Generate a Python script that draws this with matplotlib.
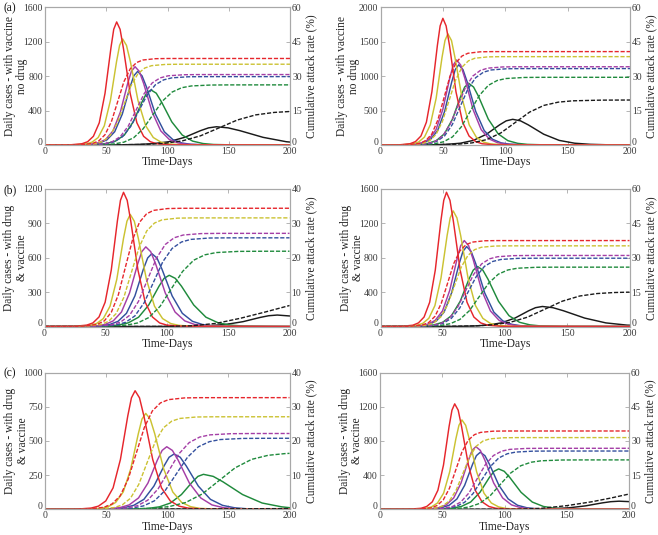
import matplotlib
matplotlib.use("Agg")
import matplotlib.pyplot as plt
import matplotlib.transforms as mtrans

plt.rcParams['font.family'] = ['Liberation Serif', 'DejaVu Serif']

COLORS = {'red': '#e6262c', 'yellow': '#cbc232', 'purple': '#a43ea6',
          'blue': '#33509e', 'green': '#1f8a3c', 'black': '#1a1a1a'}
ORDER = ['black', 'green', 'blue', 'purple', 'yellow', 'red']

X_TICKS = [0, 50, 100, 150, 200]

# ---------------- Panel (a): vaccine, no drug (left) ----------------
A_DAILY = {
    'red': ([0, 20.5, 30, 34.8, 39.5, 44.3, 49, 53.8, 56.1, 58.5, 61.3, 64, 69.5, 75, 80.5, 86, 91.5, 102.5, 200],
            [0, 2, 14, 38, 101, 258, 601, 1125, 1344, 1430, 1344, 1125, 601, 258, 101, 38, 14, 2, 0]),
    'yellow': ([0, 23.4, 33.4, 38.4, 43.4, 48.4, 53.4, 58.4, 60.9, 63.4, 66.5, 69.7, 75.9, 82.2, 88.4, 94.7, 100.9, 113.4, 200],
               [0, 2, 12, 33, 87, 223, 517, 969, 1158, 1232, 1158, 969, 517, 223, 87, 33, 12, 2, 0]),
    'purple': ([0, 25.5, 37.5, 43.5, 49.5, 55.5, 61.5, 67.5, 70.5, 73.5, 77, 80.5, 87.5, 94.5, 101.5, 108.5, 115.5, 129.5, 200],
               [0, 1, 9, 24, 64, 164, 382, 716, 855, 910, 855, 716, 382, 164, 64, 24, 9, 1, 0]),
    'blue': ([0, 25.6, 38.1, 44.4, 50.6, 56.9, 63.1, 69.4, 72.5, 75.6, 79.2, 82.9, 90.1, 97.4, 104.6, 111.9, 119.1, 133.6, 200],
             [0, 1, 8, 23, 60, 154, 359, 672, 804, 855, 804, 672, 359, 154, 60, 23, 8, 1, 0]),
    'green': ([0, 28.5, 43, 50.3, 57.5, 64.8, 72, 79.3, 82.9, 86.5, 90.8, 95, 103.5, 112, 120.5, 129, 137.5, 154.5, 200],
              [0, 1, 6, 17, 45, 116, 269, 503, 602, 640, 602, 503, 269, 116, 45, 17, 6, 1, 0]),
    'black': ([0, 36, 62, 75, 88, 101, 114, 127, 133.5, 140, 149.5, 159, 178, 197, 200],
              [0, 0.3, 2, 6, 15, 38, 89, 167, 199, 212, 199, 167, 89, 38, 34]),
}
A_CUM = {
    'red': ([0, 18.3, 28.6, 38.8, 43.9, 49, 54.2, 59.3, 64.4, 69.6, 74.7, 79.8, 90.1, 100.3, 200],
            [0, 0.01, 0.09, 0.68, 1.79, 4.49, 10.14, 18.85, 27.56, 33.21, 35.91, 37.02, 37.61, 37.69, 37.7]),
    'yellow': ([0, 19.5, 30.8, 42, 47.6, 53.3, 58.9, 64.5, 70.1, 75.8, 81.4, 87, 98.3, 109.5, 200],
               [0, 0.01, 0.09, 0.63, 1.67, 4.2, 9.47, 17.6, 25.73, 31.0, 33.53, 34.57, 35.11, 35.19, 35.2]),
    'purple': ([0, 22.5, 35.5, 48.5, 55, 61.5, 68, 74.5, 81, 87.5, 94, 100.5, 113.5, 126.5, 200],
               [0, 0.01, 0.08, 0.55, 1.46, 3.66, 8.26, 15.35, 22.44, 27.04, 29.24, 30.15, 30.62, 30.69, 30.7]),
    'blue': ([0, 22.6, 36.1, 49.6, 56.4, 63.1, 69.9, 76.6, 83.4, 90.1, 96.9, 103.6, 117.1, 130.6, 200],
             [0, 0.01, 0.07, 0.54, 1.41, 3.55, 8.01, 14.9, 21.79, 26.25, 28.39, 29.26, 29.73, 29.79, 29.8]),
    'green': ([0, 25, 40.8, 56.5, 64.4, 72.3, 80.1, 88, 95.9, 103.8, 111.6, 119.5, 135.3, 151, 200],
              [0, 0.01, 0.07, 0.47, 1.24, 3.12, 7.05, 13.1, 19.15, 23.08, 24.96, 25.73, 26.13, 26.19, 26.2]),
    'black': ([0, 22, 52, 82, 97, 112, 127, 142, 157, 172, 187, 200],
              [0, 0.004, 0.04, 0.27, 0.71, 1.78, 4.01, 7.45, 10.89, 13.12, 14.19, 14.6]),
}

# ---------------- Panel (a'): vaccine, no drug (right) ----------------
B_DAILY = {
    'red': ([0, 14.8, 23.6, 28, 32.4, 36.8, 41.2, 45.6, 47.8, 50, 52.6, 55.3, 60.5, 65.8, 71, 76.3, 81.5, 92, 200],
            [0, 2, 18, 49, 130, 332, 773, 1447, 1730, 1840, 1730, 1447, 773, 332, 130, 49, 18, 2, 0]),
    'yellow': ([0, 16.4, 25.8, 30.5, 35.2, 39.9, 44.6, 49.3, 51.7, 54, 56.9, 59.7, 65.4, 71.1, 76.8, 82.5, 88.2, 99.6, 200],
               [0, 2, 16, 43, 114, 292, 678, 1270, 1518, 1615, 1518, 1270, 678, 292, 114, 43, 16, 2, 0]),
    'purple': ([0, 17, 28, 33.5, 39, 44.5, 50, 55.5, 58.3, 61, 64.3, 67.6, 74.1, 80.7, 87.2, 93.8, 100.3, 113.4, 200],
               [0, 2, 12, 33, 87, 223, 519, 971, 1161, 1235, 1161, 971, 519, 223, 87, 33, 12, 2, 0]),
    'blue': ([0, 17.5, 28.8, 34.5, 40.1, 45.8, 51.4, 57.1, 59.9, 62.7, 66.1, 69.5, 76.3, 83.1, 89.9, 96.7, 103.5, 117.1, 200],
             [0, 2, 12, 31, 82, 211, 489, 916, 1095, 1165, 1095, 916, 489, 211, 82, 31, 12, 2, 0]),
    'green': ([0, 18.7, 31.7, 38.2, 44.7, 51.2, 57.7, 64.2, 67.5, 70.7, 74.6, 78.6, 86.4, 94.3, 102.1, 110, 117.8, 133.5, 200],
              [0, 1, 9, 24, 63, 162, 376, 705, 842, 896, 842, 705, 376, 162, 63, 24, 9, 1, 0]),
    'black': ([0, 22, 43, 53.5, 64, 74.5, 85, 95.5, 100.8, 106, 112.2, 118.4, 130.8, 143.2, 155.6, 168, 180.4, 200],
              [0, 0.5, 4, 10, 26, 67, 157, 293, 351, 373, 351, 293, 157, 67, 26, 10, 4, 1]),
}
B_CUM = {
    'red': ([0, 12.2, 21.9, 31.5, 36.3, 41.2, 46, 50.8, 55.6, 60.5, 65.3, 70.1, 79.8, 89.4, 200],
            [0, 0.01, 0.1, 0.73, 1.93, 4.85, 10.94, 20.35, 29.76, 35.85, 38.77, 39.97, 40.6, 40.69, 40.7]),
    'yellow': ([0, 13.3, 23.7, 34.1, 39.3, 44.5, 49.7, 54.9, 60.1, 65.3, 70.5, 75.7, 86.1, 96.5, 200],
               [0, 0.01, 0.1, 0.69, 1.82, 4.59, 10.35, 19.25, 28.15, 33.91, 36.68, 37.81, 38.4, 38.49, 38.5]),
    'purple': ([0, 14, 26, 38, 44, 50, 56, 62, 68, 74, 80, 86, 98, 110, 200],
               [0, 0.01, 0.09, 0.61, 1.62, 4.06, 9.17, 17.05, 24.93, 30.04, 32.48, 33.49, 34.01, 34.09, 34.1]),
    'blue': ([0, 14, 26.5, 38.9, 45.1, 51.4, 57.6, 63.8, 70, 76.3, 82.5, 88.7, 101.2, 113.6, 200],
             [0, 0.01, 0.08, 0.6, 1.58, 3.97, 8.95, 16.65, 24.35, 29.33, 31.72, 32.7, 33.22, 33.29, 33.3]),
    'green': ([0, 14.6, 29, 43.3, 50.5, 57.7, 64.8, 72, 79.2, 86.4, 93.5, 100.7, 115.1, 129.4, 200],
              [0, 0.01, 0.07, 0.53, 1.4, 3.52, 7.93, 14.75, 21.57, 25.98, 28.1, 28.97, 29.43, 29.49, 29.5]),
    'black': ([0, 16, 39, 62, 73.5, 85, 96.5, 108, 119.5, 131, 142.5, 154, 177, 200],
              [0, 0.01, 0.05, 0.35, 0.93, 2.34, 5.27, 9.8, 14.33, 17.26, 18.67, 19.25, 19.55, 19.6]),
}

# ---------------- Panel (b): drug & vaccine (left) ----------------
C_DAILY = {
    'red': ([0, 24.5, 34.5, 39.5, 44.5, 49.5, 54.5, 59.5, 62, 64.5, 67.5, 70.4, 76.3, 82.2, 88.1, 94, 99.9, 111.7, 200],
            [0, 2, 12, 31, 83, 212, 492, 921, 1101, 1171, 1101, 921, 492, 212, 83, 31, 12, 2, 0]),
    'yellow': ([0, 26, 37, 42.5, 48, 53.5, 59, 64.5, 67.3, 70, 73.3, 76.6, 83.2, 89.8, 96.4, 103, 109.6, 122.8, 200],
               [0, 1, 10, 26, 69, 177, 411, 769, 919, 978, 919, 769, 411, 177, 69, 26, 10, 1, 0]),
    'purple': ([0, 29.5, 42.8, 49.5, 56.1, 62.8, 69.4, 76.1, 79.4, 82.7, 86.7, 90.7, 98.6, 106.6, 114.5, 122.5, 130.4, 146.3, 200],
               [0, 1, 7, 18, 49, 126, 292, 547, 653, 695, 653, 547, 292, 126, 49, 18, 7, 1, 0]),
    'blue': ([0, 32.4, 46.2, 53.1, 60, 66.9, 73.8, 80.7, 84.2, 87.6, 91.8, 95.9, 104.2, 112.5, 120.8, 129.1, 137.4, 154, 200],
             [0, 1, 6, 17, 45, 115, 267, 500, 598, 636, 598, 500, 267, 115, 45, 17, 6, 1, 0]),
    'green': ([0, 35, 51.7, 60.1, 68.4, 76.8, 85.1, 93.5, 97.6, 101.8, 106.8, 111.8, 121.8, 131.8, 141.8, 151.8, 161.8, 181.8, 200],
              [0, 1, 4, 12, 32, 81, 188, 352, 420, 447, 420, 352, 188, 81, 32, 12, 4, 1, 0]),
    'black': ([0, 78, 106, 120, 134, 148, 162, 176, 183, 190, 200],
              [0, 0.1, 1, 3, 7, 18, 42, 79, 94, 100, 92]),
}
C_CUM = {
    'red': ([0, 20, 31.5, 43, 48.8, 54.5, 60.3, 66, 71.8, 77.5, 83.3, 89, 100.5, 112, 200],
            [0, 0.01, 0.09, 0.62, 1.63, 4.1, 9.25, 17.2, 25.15, 30.3, 32.77, 33.78, 34.31, 34.39, 34.4]),
    'yellow': ([0, 21, 33.5, 46, 52.3, 58.5, 64.8, 71, 77.3, 83.5, 89.8, 96, 108.5, 121, 200],
               [0, 0.01, 0.08, 0.57, 1.5, 3.77, 8.5, 15.8, 23.1, 27.83, 30.1, 31.03, 31.52, 31.59, 31.6]),
    'purple': ([0, 25.6, 40.2, 54.8, 62.1, 69.4, 76.7, 84, 91.3, 98.6, 105.9, 113.2, 127.8, 142.4, 200],
               [0, 0.01, 0.07, 0.49, 1.28, 3.23, 7.29, 13.55, 19.81, 23.87, 25.82, 26.61, 27.03, 27.09, 27.1]),
    'blue': ([0, 28.2, 43.4, 58.6, 66.2, 73.8, 81.4, 89, 96.6, 104.2, 111.8, 119.4, 134.6, 149.8, 200],
             [0, 0.01, 0.06, 0.46, 1.22, 3.08, 6.94, 12.9, 18.86, 22.72, 24.58, 25.34, 25.74, 25.79, 25.8]),
    'green': ([0, 30.3, 48.6, 66.9, 76.1, 85.2, 94.4, 103.5, 112.7, 121.8, 131, 140.1, 158.4, 176.7, 200],
              [0, 0.01, 0.05, 0.39, 1.04, 2.61, 5.89, 10.95, 16.01, 19.29, 20.86, 21.51, 21.85, 21.89, 21.9]),
    'black': ([0, 100, 120, 140, 160, 180, 200],
              [0, 0.02, 0.2, 0.9, 2.4, 4.2, 6.1]),
}

# ---------------- Panel (b'): drug & vaccine (right) ----------------
D_DAILY = {
    'red': ([0, 17, 26, 30.5, 35, 39.5, 44, 48.5, 50.8, 53, 55.8, 58.5, 64, 69.5, 75, 80.5, 86, 97, 200],
            [0, 2, 15, 42, 110, 282, 656, 1228, 1468, 1562, 1468, 1228, 656, 282, 110, 42, 15, 2, 0]),
    'yellow': ([0, 19.2, 29, 33.9, 38.8, 43.7, 48.6, 53.5, 56, 58.4, 61.4, 64.4, 70.3, 76.3, 82.2, 88.2, 94.1, 106, 200],
               [0, 2, 13, 36, 95, 243, 565, 1058, 1264, 1345, 1264, 1058, 565, 243, 95, 36, 13, 2, 0]),
    'purple': ([0, 20.5, 32.2, 38.1, 43.9, 49.8, 55.6, 61.5, 64.4, 67.3, 70.8, 74.3, 81.3, 88.3, 95.3, 102.3, 109.3, 123.3, 200],
               [0, 1, 10, 27, 71, 181, 420, 786, 940, 1000, 940, 786, 420, 181, 71, 27, 10, 1, 0]),
    'blue': ([0, 20.8, 32.9, 39, 45, 51.1, 57.1, 63.2, 66.2, 69.2, 72.8, 76.5, 83.7, 91, 98.2, 105.5, 112.7, 127.2, 200],
             [0, 1, 9, 25, 66, 168, 391, 731, 874, 930, 874, 731, 391, 168, 66, 25, 9, 1, 0]),
    'green': ([0, 22, 36, 43, 50, 57, 64, 71, 74.5, 78, 82.2, 86.4, 94.8, 103.2, 111.6, 120, 128.4, 145.2, 200],
              [0, 1, 7, 19, 49, 126, 293, 549, 656, 698, 656, 549, 293, 126, 49, 19, 7, 1, 0]),
    'black': ([0, 42, 64, 75, 86, 97, 108, 119, 124.5, 130, 138.5, 147, 164, 181, 198, 200],
              [0, 0.3, 2, 6, 16, 42, 98, 183, 219, 233, 219, 183, 98, 42, 16, 15]),
}
D_CUM = {
    'red': ([0, 13.8, 23.8, 33.8, 38.8, 43.8, 48.8, 53.8, 58.8, 63.8, 68.8, 73.8, 83.8, 93.8, 200],
            [0, 0.01, 0.09, 0.68, 1.78, 4.47, 10.08, 18.75, 27.42, 33.03, 35.72, 36.83, 37.41, 37.49, 37.5]),
    'yellow': ([0, 15.9, 26.8, 37.6, 43, 48.5, 53.9, 59.3, 64.7, 70.2, 75.6, 81, 91.9, 102.7, 200],
               [0, 0.01, 0.09, 0.63, 1.67, 4.2, 9.47, 17.6, 25.73, 31.0, 33.53, 34.57, 35.11, 35.19, 35.2]),
    'purple': ([0, 16.9, 29.8, 42.6, 49, 55.5, 61.9, 68.3, 74.7, 81.2, 87.6, 94, 106.9, 119.7, 200],
               [0, 0.01, 0.08, 0.56, 1.47, 3.7, 8.34, 15.5, 22.66, 27.3, 29.53, 30.44, 30.92, 30.99, 31.0]),
    'blue': ([0, 17, 30.3, 43.6, 50.3, 56.9, 63.6, 70.2, 76.9, 83.5, 90.2, 96.8, 110.1, 123.4, 200],
             [0, 0.01, 0.07, 0.54, 1.41, 3.55, 8.01, 14.9, 21.79, 26.25, 28.39, 29.26, 29.73, 29.79, 29.8]),
    'green': ([0, 17.6, 33, 48.4, 56.1, 63.8, 71.5, 79.2, 86.9, 94.6, 102.3, 110, 125.4, 140.8, 200],
              [0, 0.01, 0.06, 0.47, 1.23, 3.09, 6.96, 12.95, 18.94, 22.81, 24.67, 25.43, 25.84, 25.89, 25.9]),
    'black': ([0, 20, 48, 76, 90, 104, 118, 132, 146, 160, 174, 188, 200],
              [0, 0.005, 0.04, 0.27, 0.72, 1.8, 4.06, 7.55, 11.04, 13.3, 14.38, 14.83, 14.99]),
}

# ---------------- Panel (c): drug & vaccine (left) ----------------
E_DAILY = {
    'red': ([0, 25.7, 37.7, 43.7, 49.7, 55.7, 61.7, 67.7, 70.7, 73.7, 77.3, 80.9, 88.1, 95.3, 102.5, 109.7, 116.9, 131.3, 200],
            [0, 1, 9, 23, 61, 157, 365, 683, 816, 868, 816, 683, 365, 157, 61, 23, 9, 1, 0]),
    'yellow': ([0, 33.2, 45.5, 51.7, 57.8, 64, 70.1, 76.3, 79.3, 82.4, 86.1, 89.8, 97.1, 104.5, 111.8, 119.2, 126.5, 141.2, 200],
               [0, 1, 7, 19, 50, 127, 295, 552, 660, 702, 660, 552, 295, 127, 50, 19, 7, 1, 0]),
    'purple': ([0, 38, 53.4, 61.1, 68.8, 76.5, 84.2, 91.9, 95.8, 99.6, 104.2, 108.9, 118.1, 127.4, 136.6, 145.9, 155.1, 173.6, 200],
               [0, 0.6, 4.5, 12, 32, 83, 192, 360, 431, 458, 431, 360, 192, 83, 32, 12, 4.5, 0.6, 0]),
    'blue': ([0, 39.6, 56.1, 64.4, 72.6, 80.9, 89.1, 97.4, 101.5, 105.6, 110.6, 115.5, 125.4, 135.3, 145.2, 155.1, 165, 184.8, 200],
             [0, 0.5, 4, 11, 29, 73, 170, 318, 381, 405, 381, 318, 170, 73, 29, 11, 4, 0.5, 0.1]),
    'green': ([0, 57.6, 75.6, 84.6, 93.6, 102.6, 111.6, 120.6, 125.1, 129.6, 137.6, 145.6, 161.6, 177.6, 193.6, 200],
              [0, 0.3, 2.5, 7, 18, 46, 108, 201, 241, 256, 241, 201, 108, 46, 18, 12]),
    'black': ([0, 100, 150, 200],
              [0, 0.5, 2, 4]),
}
E_CUM = {
    'red': ([0, 21.8, 35, 48.2, 54.8, 61.4, 68, 74.6, 81.2, 87.8, 94.4, 101, 114.2, 127.4, 200],
            [0, 0.01, 0.08, 0.59, 1.55, 3.9, 8.79, 16.35, 23.91, 28.8, 31.15, 32.11, 32.62, 32.69, 32.7]),
    'yellow': ([0, 29.4, 42.9, 56.4, 63.2, 69.9, 76.7, 83.4, 90.2, 96.9, 103.7, 110.4, 123.9, 137.4, 200],
               [0, 0.01, 0.07, 0.49, 1.28, 3.23, 7.29, 13.55, 19.81, 23.87, 25.82, 26.61, 27.03, 27.09, 27.1]),
    'purple': ([0, 33, 50, 67, 75.5, 84, 92.5, 101, 109.5, 118, 126.5, 135, 152, 169, 200],
               [0, 0.01, 0.06, 0.4, 1.05, 2.65, 5.97, 11.1, 16.23, 19.55, 21.15, 21.8, 22.14, 22.19, 22.2]),
    'blue': ([0, 35.5, 53.5, 71.5, 80.5, 89.5, 98.5, 107.5, 116.5, 125.5, 134.5, 143.5, 161.5, 179.5, 200],
             [0, 0.01, 0.05, 0.37, 0.99, 2.48, 5.59, 10.4, 15.21, 18.32, 19.81, 20.43, 20.75, 20.79, 20.8]),
    'green': ([0, 34, 61, 88, 101.5, 115, 128.5, 142, 155.5, 169, 182.5, 196, 200],
              [0, 0.005, 0.04, 0.3, 0.79, 1.98, 4.46, 8.3, 12.14, 14.62, 15.81, 16.3, 16.38]),
    'black': ([0, 200],
              [0, 0.2]),
}

# ---------------- Panel (c'): drug & vaccine (right) ----------------
F_DAILY = {
    'red': ([0, 24, 33, 37.5, 42, 46.5, 51, 55.5, 57.8, 60, 62.8, 65.5, 71, 76.5, 82, 87.5, 93, 104, 200],
            [0, 2, 12, 33, 87, 223, 519, 971, 1161, 1235, 1161, 971, 519, 223, 87, 33, 12, 2, 0]),
    'yellow': ([0, 26.6, 36.4, 41.3, 46.2, 51.1, 56, 60.9, 63.4, 65.8, 68.8, 71.7, 77.6, 83.5, 89.4, 95.3, 101.2, 113, 200],
               [0, 1, 10, 28, 74, 189, 440, 823, 984, 1047, 984, 823, 440, 189, 74, 28, 10, 1, 0]),
    'purple': ([0, 29.4, 41.3, 47.3, 53.2, 59.2, 65.1, 71.1, 74, 77, 80.6, 84.2, 91.3, 98.5, 105.6, 112.8, 119.9, 134.2, 200],
               [0, 1, 7, 20, 52, 133, 308, 577, 690, 734, 690, 577, 308, 133, 52, 20, 7, 1, 0]),
    'blue': ([0, 30.5, 43, 49.3, 55.5, 61.8, 68, 74.3, 77.4, 80.5, 84.3, 88, 95.5, 103, 110.5, 118, 125.5, 140.5, 200],
             [0, 1, 7, 18, 47, 121, 281, 525, 628, 668, 628, 525, 281, 121, 47, 18, 7, 1, 0]),
    'green': ([0, 35.3, 50.3, 57.8, 65.3, 72.8, 80.3, 87.8, 91.6, 95.3, 99.8, 104.3, 113.3, 122.3, 131.3, 140.3, 149.3, 167.3, 200],
              [0, 1, 5, 13, 33, 85, 199, 372, 445, 473, 445, 372, 199, 85, 33, 13, 5, 1, 0]),
    'black': ([0, 84, 111, 124.5, 138, 151.5, 165, 178.5, 185.3, 192, 200],
              [0, 0.1, 1, 2.5, 7, 17, 40, 75, 89, 95, 90]),
}
F_CUM = {
    'red': ([0, 20.8, 30.8, 40.8, 45.8, 50.8, 55.8, 60.8, 65.8, 70.8, 75.8, 80.8, 90.8, 100.8, 200],
            [0, 0.01, 0.09, 0.62, 1.63, 4.1, 9.25, 17.2, 25.15, 30.3, 32.77, 33.78, 34.31, 34.39, 34.4]),
    'yellow': ([0, 23.4, 34.2, 45, 50.4, 55.8, 61.2, 66.6, 72, 77.4, 82.8, 88.2, 99, 109.8, 200],
               [0, 0.01, 0.08, 0.57, 1.49, 3.75, 8.47, 15.75, 23.03, 27.75, 30.01, 30.93, 31.42, 31.49, 31.5]),
    'purple': ([0, 25.6, 38.7, 51.8, 58.4, 64.9, 71.5, 78, 84.6, 91.1, 97.7, 104.2, 117.3, 130.4, 200],
               [0, 0.01, 0.07, 0.48, 1.27, 3.19, 7.21, 13.4, 19.59, 23.61, 25.53, 26.32, 26.73, 26.79, 26.8]),
    'blue': ([0, 26.6, 40.4, 54.1, 61, 67.9, 74.7, 81.6, 88.5, 95.4, 102.2, 109.1, 122.9, 136.6, 200],
             [0, 0.01, 0.06, 0.46, 1.21, 3.05, 6.88, 12.8, 18.72, 22.55, 24.39, 25.14, 25.54, 25.59, 25.6]),
    'green': ([0, 30.5, 47, 63.5, 71.8, 80, 88.3, 96.5, 104.8, 113, 121.3, 129.5, 146, 162.5, 200],
              [0, 0.01, 0.05, 0.39, 1.03, 2.59, 5.84, 10.85, 15.86, 19.11, 20.67, 21.31, 21.65, 21.69, 21.7]),
    'black': ([0, 110, 130, 150, 170, 185, 200],
              [0, 0.05, 0.45, 1.6, 3.3, 4.9, 6.7]),
}

LABEL_TOP = ('Daily cases - with vaccine', 'no drug')
LABEL_DRUG = ('Daily cases - with drug', '& vaccine')
RIGHT_LABEL = 'Cumulative attack rate (%)'
X_LABEL = 'Time-Days'

PANELS = [
    dict(px=(45, 7.3, 290, 145), letter='(a)', lab=LABEL_TOP, labx=(-35.0, -22.5),
         yt=[0, 400, 800, 1200, 1600], rt=[0, 15, 30, 45, 60], daily=A_DAILY, cum=A_CUM),
    dict(px=(380.5, 7.3, 630, 145), letter=None, lab=LABEL_TOP, labx=(-38.5, -26.5),
         yt=[0, 500, 1000, 1500, 2000], rt=[0, 15, 30, 45, 60], daily=B_DAILY, cum=B_CUM),
    dict(px=(44.5, 189, 289.5, 326.5), letter='(b)', lab=LABEL_DRUG, labx=(-35.0, -22.5),
         yt=[0, 300, 600, 900, 1200], rt=[0, 10, 20, 30, 40], daily=C_DAILY, cum=C_CUM),
    dict(px=(380.5, 189, 629.5, 326.5), letter=None, lab=LABEL_DRUG, labx=(-35.0, -22.5),
         yt=[0, 400, 800, 1200, 1600], rt=[0, 15, 30, 45, 60], daily=D_DAILY, cum=D_CUM),
    dict(px=(45, 372.7, 289.5, 509.3), letter='(c)', lab=LABEL_DRUG, labx=(-35.0, -22.5),
         yt=[0, 250, 500, 750, 1000], rt=[0, 10, 20, 30, 40], daily=E_DAILY, cum=E_CUM),
    dict(px=(380, 372.7, 629, 509.3), letter=None, lab=LABEL_DRUG, labx=(-35.0, -22.5),
         yt=[0, 400, 800, 1200, 1600], rt=[0, 15, 30, 45, 60], daily=F_DAILY, cum=F_CUM),
]

W, H = 658, 535
fig = plt.figure(figsize=(W / 100, H / 100), dpi=100)
fig.patch.set_facecolor('white')

SPINE = '#a8a8a8'
TICKC = '#3a3a3a'
TICK_FS = 7.0
LAB_FS = 8.3
zero_lift = mtrans.ScaledTranslation(0, 3.5 / 100, fig.dpi_scale_trans)

for p in PANELS:
    x0, y0, x1, y1 = p['px']
    wpx = x1 - x0
    ax = fig.add_axes([x0 / W, 1 - y1 / H, wpx / W, (y1 - y0) / H])
    ax2 = ax.twinx()
    for name in ORDER:
        d, v = p['daily'][name]
        ax.plot(d, v, color=COLORS[name], lw=1.05, solid_joinstyle='round')
    for name in ORDER:
        d, v = p['cum'][name]
        ax2.plot(d, v, color=COLORS[name], lw=1.0, dashes=(3.0, 1.3))
    ax.set_xlim(0, 200)
    ax.set_ylim(0, p['yt'][-1])
    ax2.set_ylim(0, p['rt'][-1])
    ax.set_xticks(X_TICKS)
    ax.set_yticks(p['yt'])
    ax2.set_yticks(p['rt'])
    for a in (ax, ax2):
        for s in a.spines.values():
            s.set_color(SPINE)
            s.set_linewidth(0.8)
    ax.tick_params(axis='both', direction='in', length=3, width=0.6, color=SPINE,
                   labelsize=TICK_FS, labelcolor=TICKC, pad=1.5, top=True, right=False)
    ax2.tick_params(axis='y', direction='in', length=3, width=0.6, color=SPINE,
                    labelsize=TICK_FS, labelcolor=TICKC, pad=1.5)
    # lift the "0" labels of both y axes slightly so they clear the x tick labels
    t_left = ax.yaxis.get_major_ticks()[0].label1
    t_left.set_transform(t_left.get_transform() + zero_lift)
    t_right = ax2.yaxis.get_major_ticks()[0].label2
    t_right.set_transform(t_right.get_transform() + zero_lift)
    ax.set_xlabel(X_LABEL, fontsize=LAB_FS, color='#222222')
    ax.xaxis.set_label_coords(0.5, -0.082)
    # two-line left label, each line placed as its own rotated text
    line1, line2 = p['lab']
    lx1, lx2 = p['labx']
    ax.text(lx1 / wpx, 0.5, line1, transform=ax.transAxes, rotation=90,
            ha='center', va='center', fontsize=LAB_FS, color='#222222')
    ax.text(lx2 / wpx, 0.5, line2, transform=ax.transAxes, rotation=90,
            ha='center', va='center', fontsize=LAB_FS, color='#222222')
    ax2.set_ylabel(RIGHT_LABEL, fontsize=LAB_FS, color='#222222', rotation=90)
    ax2.yaxis.set_label_coords(1.063, 0.5)
    if p['letter']:
        fig.text(4 / W, 1 - (y0 + 1) / H, p['letter'], fontsize=LAB_FS, color='#111111',
                 ha='left', va='center')

fig.savefig('out.png', dpi=100, facecolor='white')
